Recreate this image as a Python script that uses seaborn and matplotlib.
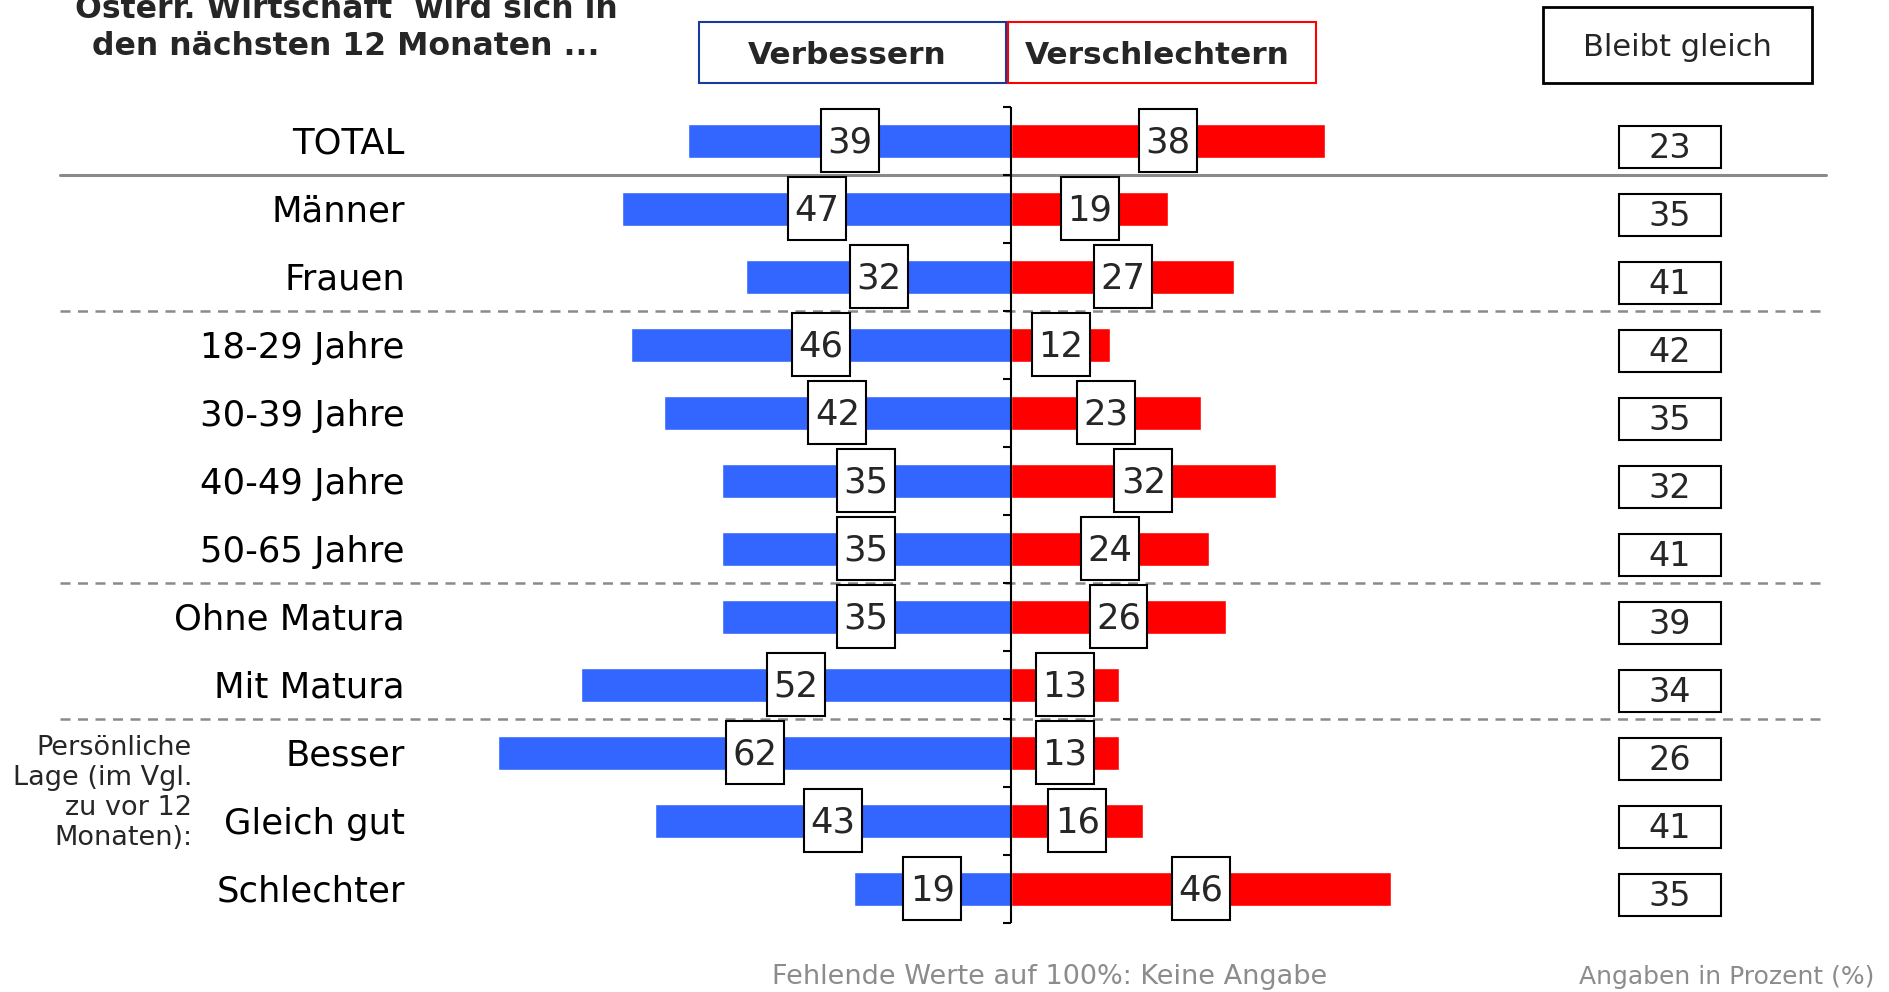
import matplotlib
matplotlib.use("Agg")
import matplotlib.pyplot as plt
from matplotlib.patches import Rectangle
import seaborn as sns
import pandas as pd

categories = ["TOTAL", "Männer", "Frauen", "18-29 Jahre", "30-39 Jahre", "40-49 Jahre",
              "50-65 Jahre", "Ohne Matura", "Mit Matura", "Besser", "Gleich gut", "Schlechter"]
verbessern = [39, 47, 32, 46, 42, 35, 35, 35, 52, 62, 43, 19]
verschlechtern = [38, 19, 27, 12, 23, 32, 24, 26, 13, 13, 16, 46]
bleibt_gleich = [23, 35, 41, 42, 35, 32, 41, 39, 34, 26, 41, 35]

title = "Österr. Wirtschaft  wird sich in\nden nächsten 12 Monaten ..."
legend_labels = ["Verbessern", "Verschlechtern", "Bleibt gleich"]
side_note = "Persönliche\nLage (im Vgl.\nzu vor 12\nMonaten):"
footer_left = "Fehlende Werte auf 100%: Keine Angabe"
footer_right = "Angaben in Prozent (%)"

BLUE = "#3366FF"
RED = "#FF0000"
GRAY = "#8c8c8c"

sns.set_style("white")
plt.rcParams["font.family"] = ["DejaVu Sans"]

W, H = 1890, 992
fig = plt.figure(figsize=(W / 100, H / 100), dpi=100)
ax = fig.add_axes([0, 0, 1, 1])

df = pd.DataFrame({
    "cat": categories * 2,
    "side": ["Verbessern"] * len(categories) + ["Verschlechtern"] * len(categories),
    "val": [-v for v in verbessern] + list(verschlechtern),
})
sns.barplot(data=df, x="val", y="cat", hue="side", order=categories,
            palette={"Verbessern": BLUE, "Verschlechtern": RED},
            dodge=False, width=0.5, orient="h", saturation=1, legend=False, ax=ax)

# geometry: 8.27 px per percent, axis at x=1011 px; 68 px per row, first row at 140 px
PXU, X0 = 8.27, 1011
ROW, Y0 = 68, 140.5
ax.set_xlim(-X0 / PXU, (W - X0) / PXU)
ax.set_ylim((H - Y0) / ROW, -Y0 / ROW)
ax.axis("off")

n = len(categories)
# center axis with ticks at row boundaries
ax.vlines(0, -0.5, n - 0.5, color="black", lw=1.5, zorder=5)
for k in range(n + 1):
    ax.hlines(k - 0.5, -1.0, 0, color="black", lw=1.5, zorder=5)

# separators
xa, xb = 60 / W, 1826 / W
ax.axhline(0.5, xa, xb, color="#8a8a8a", lw=2.2, zorder=1)
for b in (2.5, 6.5, 8.5):
    ax.axhline(b, xa, xb, color="#8a8a8a", lw=1.8, ls=(0, (4, 3)), zorder=1)

# row labels
for i, c in enumerate(categories):
    ax.text(-73.3, i + 0.05, c, ha="right", va="center", fontsize=25.5, color="black")

# value boxes on bars
bw, bh = 7.0, 0.94
for i, (b, r) in enumerate(zip(verbessern, verschlechtern)):
    for xc, v in ((-b / 2, b), (r / 2, r)):
        ax.add_patch(Rectangle((xc - bw / 2, i - bh / 2), bw, bh, facecolor="white",
                               edgecolor="black", lw=1.5, zorder=6))
        ax.text(xc, i + 0.03, str(v), ha="center", va="center", fontsize=25.5, zorder=7)

# bleibt gleich boxes
gx, gw, gh = 79.7, 12.3, 0.62
for i, g in enumerate(bleibt_gleich):
    ax.add_patch(Rectangle((gx - gw / 2, i + 0.1 - gh / 2), gw, gh, facecolor="white",
                           edgecolor="black", lw=1.5, zorder=6))
    ax.text(gx, i + 0.12, str(g), ha="center", va="center", fontsize=24, zorder=7)

def fx(px):
    return px / W

def fy(py):
    return 1 - py / H

def fig_box(x0, y0, x1, y1, ec, lw=1.5):
    fig.add_artist(Rectangle((fx(x0), fy(y1)), fx(x1) - fx(x0), (y1 - y0) / H,
                             transform=fig.transFigure, facecolor="white",
                             edgecolor=ec, lw=lw))

# legend header boxes
fig_box(699, 22, 1006, 83, "#1a3a9a")
fig.text(fx(847), fy(56), legend_labels[0], ha="center", va="center",
         fontsize=22.5, fontweight="bold")
fig_box(1008, 22, 1316, 83, RED)
fig.text(fx(1157), fy(56), legend_labels[1], ha="center", va="center",
         fontsize=22.5, fontweight="bold")
fig_box(1543, 7, 1812, 83, "black", lw=2)
fig.text(fx(1677), fy(48), legend_labels[2], ha="center", va="center", fontsize=22)

# title
fig.text(fx(346), fy(28), title, ha="center", va="center", fontsize=22.7,
         fontweight="bold", linespacing=1.28)

# side annotation
fig.text(fx(192), fy(793), side_note, ha="right", va="center", fontsize=19.5,
         linespacing=1.2)

# footers
fig.text(fx(1050), fy(977), footer_left, ha="center", va="center", fontsize=19.5, color=GRAY)
fig.text(fx(1874), fy(977), footer_right, ha="right", va="center", fontsize=18, color=GRAY)

fig.savefig("out.png", dpi=100)
